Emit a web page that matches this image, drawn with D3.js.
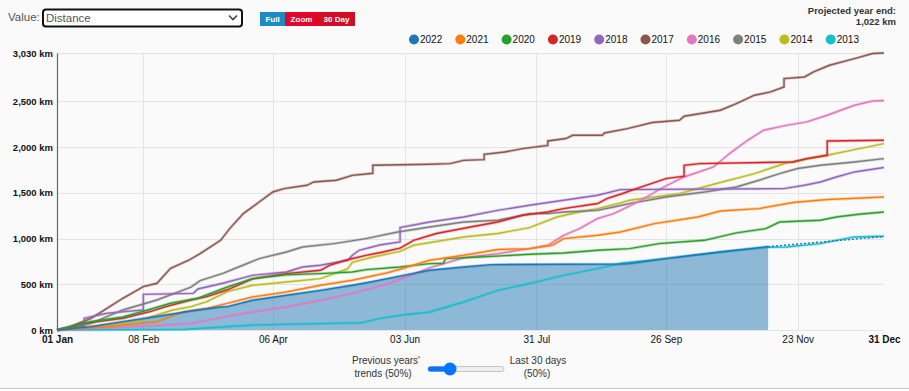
<!DOCTYPE html>
<html>
<head>
<meta charset="utf-8">
<script src="https://cdn.jsdelivr.net/npm/d3@7"></script>
<style>
  body { margin: 0; background: #fafafa; font-family: "Liberation Sans", Arial, sans-serif; }
  #chart { width: 909px; height: 391px; }
</style>
</head>
<body>
<div id="chart"></div>
<script>
// cumulative distance per year, [day of year, km]
const years = ["2022", "2021", "2020", "2019", "2018", "2017", "2016", "2015", "2014", "2013"];

const y2022 = [[0,0],[15,37],[29,92],[44,147],[59,208],[72,252],[75,256],[86,325],[101,380],[116,434],[130,489],[138,525],[151,590],[164,653],[179,689],[191,715],[248,722],[252,726],[268,781],[292,853],[313,912]];
const y2021 = [[0,0],[22,37],[44,92],[56,201],[66,237],[75,292],[86,361],[101,416],[116,489],[130,544],[145,624],[151,665],[164,763],[179,817],[194,880],[208,890],[218,927],[223,1000],[238,1036],[248,1072],[263,1164],[282,1236],[292,1302],[309,1328],[324,1394],[339,1427],[364,1455]];
const y2020 = [[0,0],[14,88],[29,142],[40,219],[50,292],[62,347],[75,470],[86,560],[101,605],[116,617],[130,635],[136,660],[151,689],[164,726],[170,730],[171,781],[186,799],[208,828],[223,843],[238,872],[252,890],[265,945],[285,981],[299,1062],[312,1109],[318,1181],[336,1200],[343,1236],[353,1266],[364,1291]];
const y2019 = [[0,0],[12,73],[29,128],[41,201],[48,256],[59,328],[66,365],[75,440],[86,560],[101,617],[116,653],[120,708],[127,763],[136,817],[143,850],[151,895],[157,981],[167,1055],[182,1127],[194,1181],[205,1255],[216,1291],[223,1328],[238,1383],[242,1437],[248,1485],[255,1547],[268,1656],[276,1682],[276,1802],[283,1820],[324,1838],[330,1875],[339,1911],[339,2068],[364,2075]];
const y2018 = [[0,0],[12,40],[12,128],[22,183],[38,219],[38,390],[60,401],[62,449],[73,511],[86,598],[101,635],[108,689],[116,708],[128,763],[130,817],[133,872],[142,930],[151,963],[151,1120],[164,1181],[179,1236],[194,1309],[208,1364],[223,1419],[238,1474],[248,1536],[320,1547],[329,1583],[336,1619],[343,1674],[351,1729],[364,1777]];
const y2017 = [[0,0],[4,19],[15,128],[22,237],[29,347],[38,475],[44,511],[50,675],[58,763],[63,836],[72,981],[76,1109],[82,1273],[89,1400],[95,1510],[100,1547],[110,1583],[113,1619],[123,1638],[130,1692],[139,1714],[139,1802],[164,1813],[173,1820],[179,1856],[188,1864],[188,1922],[197,1947],[205,1984],[216,2020],[216,2068],[224,2094],[227,2130],[240,2130],[241,2155],[251,2203],[257,2239],[262,2270],[274,2294],[276,2338],[292,2404],[299,2477],[307,2568],[314,2604],[320,2659],[320,2750],[329,2768],[333,2823],[340,2896],[351,2969],[359,3024],[364,3030]];
const y2016 = [[0,0],[15,19],[44,48],[59,73],[72,135],[86,197],[101,252],[116,325],[130,400],[145,500],[151,555],[164,680],[179,790],[194,836],[208,890],[216,927],[223,1036],[230,1109],[238,1220],[245,1273],[251,1345],[257,1419],[267,1564],[276,1674],[289,1783],[296,1930],[304,2075],[311,2185],[321,2239],[330,2276],[339,2349],[351,2458],[359,2505],[364,2510]];
const y2015 = [[0,0],[15,73],[29,219],[44,328],[59,470],[63,540],[73,620],[81,700],[89,781],[101,853],[108,908],[122,945],[136,1000],[150,1072],[164,1127],[179,1181],[194,1200],[201,1236],[208,1273],[216,1273],[223,1291],[238,1309],[245,1345],[252,1383],[268,1455],[285,1510],[299,1564],[309,1638],[318,1711],[326,1766],[336,1802],[351,1838],[364,1875]];
const y2014 = [[0,0],[22,55],[37,110],[51,219],[59,256],[66,311],[75,420],[86,489],[101,525],[116,562],[122,617],[128,670],[130,740],[139,799],[151,860],[157,927],[179,1018],[194,1055],[208,1120],[220,1236],[230,1291],[238,1328],[248,1390],[252,1420],[274,1492],[289,1594],[307,1711],[321,1827],[339,1911],[351,1973],[364,2039]];
const y2013 = [[0,0],[56,5],[72,33],[87,55],[116,70],[134,80],[142,125],[151,161],[164,197],[179,306],[194,434],[208,508],[223,598],[238,672],[249,733],[268,781],[292,853],[313,905],[321,908],[336,945],[343,981],[351,1018],[364,1025]];

const seriesData = [y2022, y2021, y2020, y2019, y2018, y2017, y2016, y2015, y2014, y2013];
const colors = d3.schemeCategory10;

const yTicks = [0, 500, 1000, 1500, 2000, 2500, 3030];
const xTicks = ["2022-01-01", "2022-02-08", "2022-04-06", "2022-06-03", "2022-07-31", "2022-09-26", "2022-11-23", "2022-12-31"];
const projectedEnd = 1022;

const W = 909, H = 391;
const plotLeft = 57, plotRight = 884, plotTop = 53, plotBottom = 330;

const svg = d3.select("#chart").append("svg").attr("width", W).attr("height", H);

const start = new Date(2022, 0, 1);
const toDate = (day) => d3.timeDay.offset(start, day);
const parse = d3.timeParse("%Y-%m-%d");
const tickDates = xTicks.map(parse);

const x = d3.scaleTime().domain([start, new Date(2022, 11, 31)]).range([plotLeft, plotRight]);
const y = d3.scaleLinear().domain([0, 3030]).range([plotBottom, plotTop]);

// grid
svg.append("g").selectAll("line").data(yTicks).enter().append("line")
  .attr("x1", plotLeft).attr("x2", plotRight)
  .attr("y1", (d) => Math.round(y(d)) + 0.5).attr("y2", (d) => Math.round(y(d)) + 0.5)
  .attr("stroke", "#e4e4e4");
svg.append("g").selectAll("line").data(tickDates.slice(1, -1)).enter().append("line")
  .attr("x1", (d) => Math.round(x(d)) + 0.5).attr("x2", (d) => Math.round(x(d)) + 0.5)
  .attr("y1", plotTop).attr("y2", plotBottom)
  .attr("stroke", "#e4e4e4");

// 2022 area
const area = d3.area()
  .x((d) => x(toDate(d[0])))
  .y0(y(0))
  .y1((d) => y(d[1]));
svg.append("path").datum(y2022).attr("d", area)
  .attr("fill", "#1f77b4").attr("fill-opacity", 0.5);

const line = d3.line()
  .x((d) => x(toDate(d[0])))
  .y((d) => y(d[1]));

const lines = svg.append("g");
for (let i = seriesData.length - 1; i >= 0; i--) {
  lines.append("path").datum(seriesData[i]).attr("d", line)
    .attr("fill", "none").attr("stroke", colors[i])
    .attr("stroke-width", 3).attr("stroke-opacity", 0.3);
  lines.append("path").datum(seriesData[i]).attr("d", line)
    .attr("fill", "none").attr("stroke", colors[i])
    .attr("stroke-width", 1.4);
}

// projection to year end
const last = y2022[y2022.length - 1];
svg.append("path").datum([last, [364, projectedEnd]]).attr("d", line)
  .attr("fill", "none").attr("stroke", colors[0])
  .attr("stroke-width", 1.4).attr("stroke-dasharray", "2,2");

// axes
const yAxis = svg.append("g").attr("transform", `translate(${plotLeft},0)`)
  .call(d3.axisLeft(y).tickValues(yTicks).tickSize(0).tickSizeOuter(0).tickPadding(4)
    .tickFormat((d) => d3.format(",")(d) + " km"));
yAxis.select(".domain").attr("stroke", "#666").attr("stroke-width", 1.2);
yAxis.selectAll("text").attr("font-family", "Liberation Sans, Arial, sans-serif")
  .attr("font-size", 9.5).attr("font-weight", "bold").attr("fill", "#111");

const xAxis = svg.append("g").attr("transform", `translate(0,${plotBottom})`)
  .call(d3.axisBottom(x).tickValues(tickDates).tickSize(0).tickSizeOuter(0).tickPadding(6)
    .tickFormat(d3.timeFormat("%d %b")));
xAxis.select(".domain").remove();
xAxis.selectAll("text").attr("font-family", "Liberation Sans, Arial, sans-serif")
  .attr("font-size", 10).attr("fill", "#111")
  .attr("font-weight", (d, i) => (i === 0 || i === tickDates.length - 1 ? "bold" : "normal"));

// legend
const legend = svg.append("g").selectAll("g").data(years).enter().append("g")
  .attr("transform", (d, i) => `translate(${414 + i * 46.3},39.5)`);
legend.append("circle").attr("r", 5).attr("fill", (d, i) => colors[i]);
legend.append("text").attr("x", 6).attr("y", 3.6).text((d) => d)
  .attr("font-size", 10).attr("fill", "#111");

// projected year end
svg.append("text").attr("x", 896).attr("y", 14).attr("text-anchor", "end")
  .attr("font-size", 9.5).attr("font-weight", "bold").attr("fill", "#333")
  .text("Projected year end:");
svg.append("text").attr("x", 896).attr("y", 25).attr("text-anchor", "end")
  .attr("font-size", 9.5).attr("font-weight", "bold").attr("fill", "#333")
  .text(d3.format(",")(projectedEnd) + " km");

// value selector
svg.append("text").attr("x", 8).attr("y", 21).attr("font-size", 11.5).attr("fill", "#555").text("Value:");
svg.append("rect").attr("x", 43).attr("y", 9.5).attr("width", 199).attr("height", 17).attr("rx", 3)
  .attr("fill", "#fff").attr("stroke", "#111").attr("stroke-width", 2);
svg.append("text").attr("x", 46).attr("y", 22).attr("font-size", 11.5).attr("fill", "#555").text("Distance");
svg.append("path").attr("d", "M229,15.5L233,19.5L237,15.5").attr("fill", "none")
  .attr("stroke", "#444").attr("stroke-width", 1.6);

// range buttons
const buttons = [
  { label: "Full", x: 260, w: 25, fill: "#1d8bc6" },
  { label: "Zoom", x: 285, w: 33, fill: "#e2062a" },
  { label: "30 Day", x: 318, w: 37, fill: "#d40d26" },
];
const btn = svg.append("g").selectAll("g").data(buttons).enter().append("g");
btn.append("rect").attr("x", (d) => d.x).attr("y", 12).attr("width", (d) => d.w).attr("height", 14)
  .attr("fill", (d) => d.fill);
btn.append("text").attr("x", (d) => d.x + d.w / 2).attr("y", 22).attr("text-anchor", "middle")
  .attr("font-size", 8).attr("font-weight", "bold").attr("fill", "#fff").text((d) => d.label);

// trend slider
svg.append("rect").attr("x", 428).attr("y", 366.5).attr("width", 76).attr("height", 5).attr("rx", 2.5)
  .attr("fill", "#efefef").attr("stroke", "#c4c4c4");
svg.append("rect").attr("x", 428).attr("y", 366.5).attr("width", 22).attr("height", 5).attr("rx", 2.5)
  .attr("fill", "#0075ff");
svg.append("circle").attr("cx", 450).attr("cy", 369).attr("r", 6.5).attr("fill", "#0075ff");

const sliderText = [
  { t: "Previous years'", x: 386, y: 364 },
  { t: "trends (50%)", x: 383, y: 377 },
  { t: "Last 30 days", x: 538, y: 364 },
  { t: "(50%)", x: 537, y: 377 },
];
svg.append("g").selectAll("text").data(sliderText).enter().append("text")
  .attr("x", (d) => d.x).attr("y", (d) => d.y).attr("text-anchor", "middle")
  .attr("font-size", 10).attr("fill", "#333").text((d) => d.t);

svg.append("line").attr("x1", 0).attr("x2", W).attr("y1", 388.5).attr("y2", 388.5).attr("stroke", "#c8c8c8");
svg.append("rect").attr("x", 0).attr("y", 389).attr("width", W).attr("height", 2).attr("fill", "#fff");
</script>
</body>
</html>
